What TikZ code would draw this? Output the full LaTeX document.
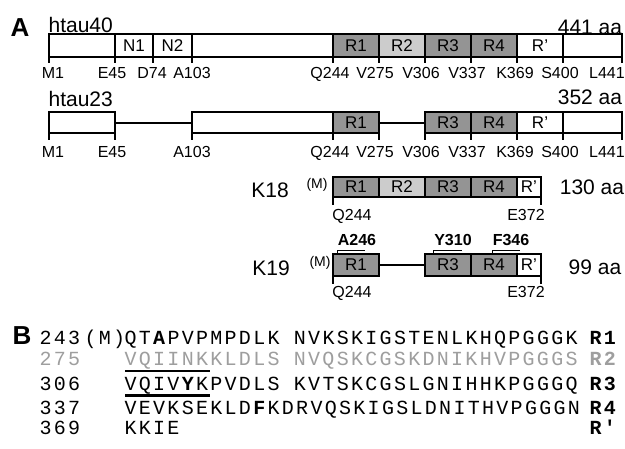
\documentclass[tikz,border=0pt]{standalone}
\usepackage{fontspec}
\setmainfont{Liberation Sans}
\setmonofont{Liberation Mono}[LetterSpace=11.5]
\definecolor{repdark}{gray}{0.58}
\definecolor{replight}{gray}{0.8}
\definecolor{seqgray}{gray}{0.62}
\tikzset{
  seglbl/.style={inner sep=0pt, font=\fontsize{17}{17}\selectfont},
  poslbl/.style={inner sep=0pt, anchor=base, font=\fontsize{16}{16}\selectfont},
  protname/.style={inner sep=0pt, font=\fontsize{21}{21}\selectfont},
  mutlbl/.style={inner sep=0pt, font=\bfseries\fontsize{16}{16}\selectfont},
  metlbl/.style={inner sep=0pt, font=\fontsize{14}{14}\selectfont},
  panel/.style={inner sep=0pt, anchor=base west, font=\bfseries\fontsize{26}{26}\selectfont},
  seq/.style={inner sep=0pt, anchor=base west, font=\ttfamily\fontsize{20}{20}\selectfont},
  hexline/.style={line width=2.8pt},
  bracket/.style={line width=0.8pt},
}
\begin{document}
\begin{tikzpicture}[x=1pt, y=-1pt, line width=1.2pt]
\useasboundingbox (0,0) rectangle (625,449);
\clip (0,0) rectangle (625,449);
\fill[white] (0,0) rectangle (625,449);

% panel A
\node[panel] (A) at (10,37) {A};

% htau40
\node[protname, anchor=base west] (h40) at (48,33) {htau40};
\node[protname] (h40len) at (590,27) {441 aa};
\foreach \a/\b/\c in {49/115/white,115/153/white,153/192/white,192/333/white,333/379/repdark,379/425/replight,425/471/repdark,471/517/repdark,517/563/white,563/622/white}
  \draw[fill=\c] (\a,34) rectangle (\b,57);
\foreach \x/\t [count=\i] in {134/N1,172.5/N2,356/R1,402/R2,448/R3,494/R4,540/R'}
  \node[seglbl] (h40r\i) at (\x,45.5) {\t};
\foreach \x/\lx/\t in {49/53/M1,115/112/E45,153/152/D74,192/192/A103,333/330/Q244,379/375/V275,425/421/V306,471/467/V337,517/515/K369,563/560/S400,622/607/L441}{
  \draw (\x,57) -- (\x,63);
  \node[poslbl] (h40-\t) at (\lx,79) {\t};
}

% htau23
\node[protname, anchor=base west] (h23) at (48,107) {htau23};
\node[protname] (h23len) at (590,97) {352 aa};
\draw (115,123) -- (192,123);
\draw (379,123) -- (425,123);
\foreach \a/\b/\c in {49/115/white,192/333/white,333/379/repdark,425/471/repdark,471/517/repdark,517/563/white,563/622/white}
  \draw[fill=\c] (\a,112) rectangle (\b,133);
\foreach \x/\t [count=\i] in {356/R1,448/R3,494/R4,540/R'}
  \node[seglbl] (h23r\i) at (\x,122.5) {\t};
\foreach \x/\lx/\t in {49/53/M1,115/112/E45,192/192/A103,333/330/Q244,379/375/V275,425/421/V306,471/467/V337,517/515/K369,563/560/S400,622/607/L441}{
  \draw (\x,133) -- (\x,140);
  \node[poslbl] (h23-\t) at (\lx,158) {\t};
}

% K18
\node[protname] (k18) at (270,190) {K18};
\node[metlbl] (k18m) at (317,185) {(M)};
\node[protname] (k18len) at (592,187) {130 aa};
\foreach \a/\b/\c in {333/379/repdark,379/425/replight,425/471/repdark,471/517/repdark,517/541/white}
  \draw[fill=\c] (\a,177) rectangle (\b,197);
\foreach \x/\t [count=\i] in {356/R1,402/R2,448/R3,494/R4,529/R'}
  \node[seglbl] (k18r\i) at (\x,187) {\t};
\foreach \x/\lx/\t in {333/352/Q244,541/526/E372}{
  \draw (\x,197) -- (\x,205);
  \node[poslbl] (k18-\t) at (\lx,221) {\t};
}

% K19
\node[protname] (k19) at (271,268) {K19};
\node[metlbl] (k19m) at (320,263) {(M)};
\node[protname] (k19len) at (595,267) {99 aa};
\draw (379,265) -- (425,265);
\foreach \a/\b/\c in {333/379/repdark,425/471/repdark,471/517/repdark,517/541/white}
  \draw[fill=\c] (\a,254) rectangle (\b,276);
\foreach \x/\t [count=\i] in {356/R1,448/R3,494/R4,529/R'}
  \node[seglbl] (k19r\i) at (\x,265) {\t};
\foreach \x/\lx/\t in {333/352/Q244,541/526/E372}{
  \draw (\x,276) -- (\x,284);
  \node[poslbl] (k19-\t) at (\lx,298) {\t};
}
% mutation sites
\foreach \a/\b/\lx/\t in {337/365/357/A246,433/462/453/Y310,492/520/511/F346}{
  \draw[bracket] (\a,254) -- (\a,250) -- (\b,250);
  \node[mutlbl] (k19-\t) at (\lx,240) {\t};
}

% panel B
\node[panel] (B) at (12,345) {B};
\node[seq] (n243) at (39,345) {243};
\node[seq] (m243) at (84,345) {(M)};
\node[seq] (s243) at (124,345) {QT\textbf{A}PVPMPDLK NVKSKIGSTENLKHQPGGGK};
\node[seq] (rep1) at (589,345) {\textbf{R1}};

\node[seq, seqgray] (n275) at (39,366) {275};
\node[seq, seqgray] (s275) at (124,366) {VQIINKKLDLS NVQSKCGSKDNIKHVPGGGS};
\node[seq, seqgray] (rep2) at (589,366) {\textbf{R2}};

\node[seq] (n306) at (39,391) {306};
\node[seq] (s306) at (124,391) {VQIV\textbf{Y}KPVDLS KVTSKCGSLGNIHHKPGGGQ};
\node[seq] (rep3) at (589,391) {\textbf{R3}};

\node[seq] (n337) at (39,415) {337};
\node[seq] (s337) at (124,415) {VEVKSEKLD\textbf{F}KDRVQSKIGSLDNITHVPGGGN};
\node[seq] (rep4) at (589,415) {\textbf{R4}};

\node[seq] (n369) at (39,435) {369};
\node[seq] (s369) at (124,435) {KKIE};
\node[seq] (repp) at (589,435) {\textbf{R'}};

% hexapeptide motifs
\draw[hexline] (125,371) -- (210,371);
\draw[hexline] (125,395.5) -- (210,395.5);
\end{tikzpicture}
\end{document}
